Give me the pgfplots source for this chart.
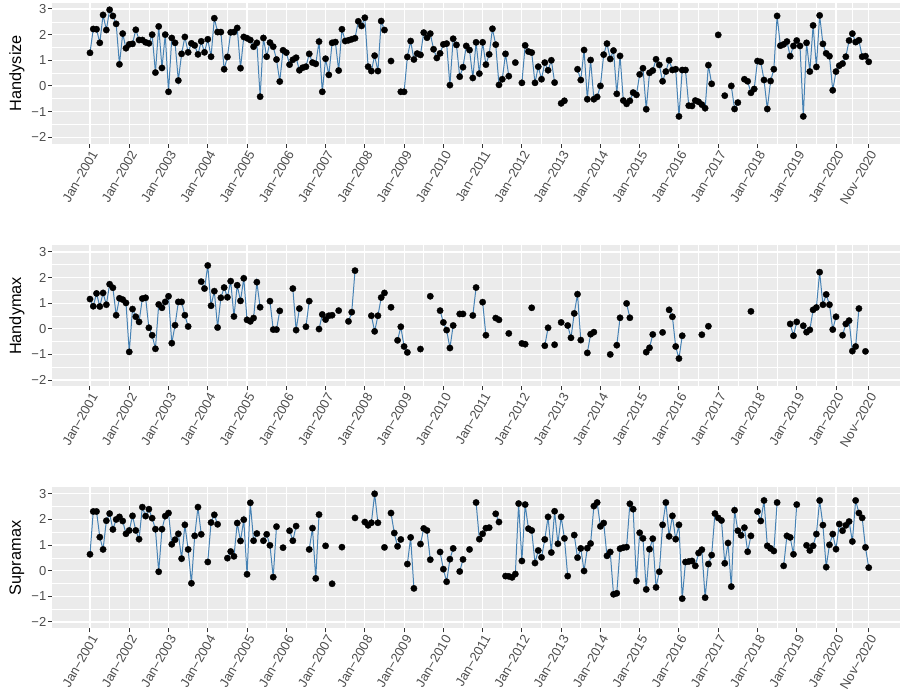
\documentclass[border=0pt]{standalone}
\usepackage{pgfplots}
\pgfplotsset{compat=1.18}
\usepackage{fontspec}
\setmainfont{Liberation Sans}
\definecolor{panelbg}{HTML}{EBEBEB}
\definecolor{ticktext}{HTML}{4D4D4D}
\definecolor{tickcol}{HTML}{333333}
\definecolor{steelblue}{HTML}{4682B4}
\pgfplotsset{
  panel/.style={
    scale only axis, width=848pt, height=141pt,
    xmin=-11.61, xmax=247.56, ymin=-2.25, ymax=3.25,
    axis background/.style={fill=panelbg},
    axis line style={draw=none},
    xtick={0,12,24,36,48,60,72,84,96,108,120,132,144,156,168,180,192,204,216,228,238},
    xticklabels={Jan−2001,Jan−2002,Jan−2003,Jan−2004,Jan−2005,Jan−2006,Jan−2007,Jan−2008,Jan−2009,Jan−2010,Jan−2011,Jan−2012,Jan−2013,Jan−2014,Jan−2015,Jan−2016,Jan−2017,Jan−2018,Jan−2019,Jan−2020,Nov−2020},
    minor xtick={6,18,30,42,54,66,78,90,102,114,126,138,150,162,174,186,198,210,222,233},
    ytick={-2,-1,0,1,2,3},
    yticklabels={−2,−1,0,1,2,3},
    minor ytick={-1.5,-0.5,0.5,1.5,2.5},
    grid=both,
    major grid style={white, line width=1.2pt},
    minor grid style={white, line width=0.6pt},
    tick align=outside, tick pos=left,
    major tick length=4pt, minor tick length=0pt,
    tick style={tickcol, line width=1pt},
    ticklabel style={font=\fontsize{13}{13}\selectfont, text=ticktext},
    xticklabel style={rotate=60, anchor=north east, inner sep=1pt},
    yticklabel style={anchor=east, inner sep=1.5pt},
    ylabel style={font=\fontsize{16.3}{16.3}\selectfont, at={(axis description cs:-0.0413,0.5)}, anchor=center},
    unbounded coords=jump,
  },
  series/.style={steelblue, line width=1pt, mark=*, mark size=3.2pt, mark options={draw=black, fill=black, line width=0.3pt, solid}},
}
\begin{document}
\begin{tikzpicture}[x=1pt,y=1pt]
\path[use as bounding box] (0,0) rectangle (902,698);
% ---------------- Handysize ----------------
\begin{axis}[panel, at={(52pt,554.4pt)}, anchor=south west, ylabel={Handysize}]
\addplot[series] coordinates {
(0,1.29) (1,2.22) (2,2.21) (3,1.68) (4,2.77) (5,2.18) (6,2.97) (7,2.73) (8,2.42) (9,0.84)
(10,2.04) (11,1.47) (12,1.62) (13,1.64) (14,2.19) (15,1.79) (16,1.79) (17,1.70) (18,1.66) (19,2.00)
(20,0.52) (21,2.32) (22,0.70) (23,2.00) (24,-0.23) (25,1.87) (26,1.68) (27,0.21) (28,1.25) (29,1.91)
(30,1.31) (31,1.66) (32,1.58) (33,1.23) (34,1.74) (35,1.31) (36,1.82) (37,1.14) (38,2.64) (39,2.10)
(40,2.10) (41,0.65) (42,1.13) (43,2.09) (44,2.10) (45,2.26) (46,0.69) (47,1.91) (48,1.86) (49,1.79)
(50,1.53) (51,1.68) (52,-0.42) (53,1.87) (54,1.14) (55,1.69) (56,1.53) (57,1.03) (58,0.17) (59,1.39)
(60,1.30) (61,0.83) (62,1.02) (63,1.10) (64,0.61) (65,0.71) (66,0.75) (67,1.25) (68,0.91) (69,0.86)
(70,1.73) (71,-0.23) (72,1.06) (73,0.43) (74,1.68) (75,1.71) (76,0.60) (77,2.21) (78,1.75) (79,1.78)
(80,1.82) (81,1.86) (82,2.52) (83,2.34) (84,2.66) (85,0.75) (86,0.58) (87,1.18) (88,0.58) (89,2.53)
(90,2.18) (91,nan) (92,0.97) (93,nan) (95,-0.23) (96,-0.23) (97,1.13) (98,1.75) (99,1.03)
(100,1.26) (101,1.21) (102,2.08) (103,1.88) (104,2.04) (105,1.43) (106,1.09) (107,1.27) (108,1.62) (109,1.65)
(110,0.03) (111,1.84) (112,1.60) (113,0.36) (114,0.73) (115,1.56) (116,1.40) (117,0.31) (118,1.70) (119,0.48)
(120,1.70) (121,0.83) (122,1.23) (123,2.23) (124,1.61) (125,0.04) (126,0.26) (127,1.25) (128,0.38) (129,nan)
(130,0.91) (131,nan) (132,0.12) (133,1.58) (134,1.34) (135,1.30) (136,0.12) (137,0.75) (138,0.26) (139,0.91)
(140,0.61) (141,1.00) (142,0.13) (143,nan) (144,-0.68) (145,-0.58) (146,nan) (149,0.65)
(150,0.23) (151,1.40) (152,-0.52) (153,1.01) (154,-0.52) (155,-0.43) (156,0.00) (157,1.22) (158,1.65) (159,1.05)
(160,1.38) (161,-0.31) (162,1.17) (163,-0.57) (164,-0.70) (165,-0.58) (166,-0.26) (167,-0.35) (168,0.45) (169,0.69)
(170,-0.91) (171,0.51) (172,0.60) (173,1.04) (174,0.82) (175,0.18) (176,0.56) (177,1.00) (178,0.62) (179,0.65)
(180,-1.19) (181,0.62) (182,0.62) (183,-0.77) (184,-0.78) (185,-0.57) (186,-0.62) (187,-0.73) (188,-0.87) (189,0.81)
(190,0.08) (191,nan) (192,1.99) (193,nan) (194,-0.38) (195,nan) (196,0.00) (197,-0.90) (198,-0.65) (199,nan)
(200,0.26) (201,0.18) (202,-0.27) (203,-0.12) (204,0.97) (205,0.94) (206,0.23) (207,-0.90) (208,0.19) (209,0.65)
(210,2.73) (211,1.57) (212,1.62) (213,1.73) (214,1.16) (215,1.56) (216,1.77) (217,1.56) (218,-1.19) (219,1.68)
(220,0.56) (221,2.36) (222,0.74) (223,2.75) (224,1.64) (225,1.27) (226,1.16) (227,-0.17) (228,0.56) (229,0.79)
(230,0.87) (231,1.14) (232,1.77) (233,2.04) (234,1.71) (235,1.78) (236,1.14) (237,1.16) (238,0.94)
};
\end{axis}
% ---------------- Handymax ----------------
\begin{axis}[panel, at={(52pt,311.5pt)}, anchor=south west, ylabel={Handymax}]
\addplot[series] coordinates {
(0,1.16) (1,0.88) (2,1.38) (3,0.87) (4,1.40) (5,0.94) (6,1.74) (7,1.60) (8,0.53) (9,1.19)
(10,1.14) (11,1.01) (12,-0.90) (13,0.77) (14,0.47) (15,0.27) (16,1.18) (17,1.21) (18,0.04) (19,-0.25)
(20,-0.78) (21,0.95) (22,0.82) (23,1.05) (24,1.27) (25,-0.56) (26,0.14) (27,1.05) (28,1.05) (29,0.53)
(30,0.09) (31,nan) (34,1.84) (35,1.57) (36,2.47) (37,0.90) (38,1.47) (39,0.05)
(40,1.21) (41,1.61) (42,1.23) (43,1.86) (44,0.48) (45,1.70) (46,1.09) (47,1.97) (48,0.35) (49,0.29)
(50,0.42) (51,1.82) (52,0.84) (53,nan) (55,1.08) (56,-0.03) (57,-0.03) (58,0.70) (59,nan)
(62,1.57) (63,-0.05) (64,0.79) (65,nan) (66,0.08) (67,1.08) (68,nan)
(70,-0.01) (71,0.56) (72,0.36) (73,0.51) (74,0.53) (75,nan) (76,0.71) (77,nan) (79,0.29)
(80,0.65) (81,2.27) (82,nan) (86,0.51) (87,-0.10) (88,0.51) (89,1.22)
(90,1.40) (91,nan) (92,0.84) (93,nan) (94,-0.45) (95,0.08) (96,-0.69) (97,-0.92) (98,nan)
(101,-0.79) (102,nan) (104,1.27) (105,nan) (107,0.71) (108,0.25) (109,-0.05)
(110,-0.75) (111,0.13) (112,nan) (113,0.58) (114,0.58) (115,nan) (117,0.52) (118,1.61) (119,nan)
(120,1.04) (121,-0.25) (122,nan) (124,0.42) (125,0.35) (126,nan) (128,-0.18) (129,nan)
(132,-0.57) (133,-0.60) (134,nan) (135,0.82) (136,nan) (139,-0.66)
(140,0.04) (141,nan) (142,-0.62) (143,nan) (144,0.25) (145,nan) (146,0.13) (147,-0.35) (148,0.60) (149,1.35)
(150,-0.44) (151,nan) (152,-0.94) (153,-0.21) (154,-0.13) (155,nan) (159,-1.00)
(160,nan) (161,-0.64) (162,0.43) (163,nan) (164,0.99) (165,0.43) (166,nan)
(170,-0.91) (171,-0.74) (172,-0.22) (173,nan) (175,-0.14) (176,nan) (177,0.74) (178,0.47) (179,-0.69)
(180,-1.16) (181,-0.27) (182,nan) (187,-0.23) (188,nan) (189,0.10)
(190,nan) (202,0.68) (203,nan)
(214,0.19) (215,-0.27) (216,0.27) (217,nan) (218,0.12) (219,-0.13)
(220,-0.04) (221,0.74) (222,0.83) (223,2.21) (224,0.94) (225,1.34) (226,0.94) (227,-0.03) (228,0.47) (229,nan)
(230,-0.25) (231,0.19) (232,0.32) (233,-0.87) (234,-0.69) (235,0.79) (236,nan) (237,-0.88)
};
\end{axis}
% ---------------- Supramax ----------------
\begin{axis}[panel, at={(52pt,69.6pt)}, anchor=south west, ylabel={Supramax}]
\addplot[series] coordinates {
(0,0.64) (1,2.31) (2,2.31) (3,1.31) (4,0.83) (5,1.95) (6,2.23) (7,1.61) (8,2.00) (9,2.10)
(10,1.94) (11,1.44) (12,1.57) (13,2.14) (14,1.57) (15,1.23) (16,2.48) (17,2.13) (18,2.40) (19,2.05)
(20,1.62) (21,-0.04) (22,1.62) (23,2.13) (24,2.25) (25,1.03) (26,1.21) (27,1.44) (28,0.47) (29,1.79)
(30,0.83) (31,-0.49) (32,1.36) (33,2.48) (34,1.42) (35,nan) (36,0.34) (37,1.88) (38,2.18) (39,1.81)
(40,nan) (42,0.49) (43,0.75) (44,0.56) (45,1.86) (46,1.16) (47,1.99) (48,-0.14) (49,2.65)
(50,1.17) (51,1.45) (52,nan) (53,1.17) (54,1.42) (55,0.99) (56,-0.25) (57,1.72) (58,nan) (59,0.90)
(60,nan) (61,1.56) (62,1.17) (63,1.74) (64,nan) (67,0.83) (68,1.66) (69,-0.30)
(70,2.19) (71,nan) (72,0.97) (73,nan) (74,-0.51) (75,nan) (77,0.92) (78,nan)
(81,2.06) (82,nan) (84,1.90) (85,1.77) (86,1.87) (87,3.00) (88,1.87) (89,nan)
(90,0.91) (91,nan) (92,2.25) (93,1.47) (94,0.95) (95,1.22) (96,nan) (97,0.26) (98,1.30) (99,-0.69)
(100,nan) (101,1.04) (102,1.65) (103,1.57) (104,0.43) (105,nan) (107,0.73) (108,0.06) (109,-0.43)
(110,0.45) (111,0.87) (112,nan) (113,-0.03) (114,0.44) (115,nan) (116,0.83) (117,nan) (118,2.66) (119,1.23)
(120,1.44) (121,1.66) (122,1.68) (123,nan) (124,2.22) (125,1.90) (126,nan) (127,-0.21) (128,-0.22) (129,-0.26)
(130,-0.13) (131,2.62) (132,0.38) (133,2.58) (134,1.64) (135,1.57) (136,0.30) (137,0.79) (138,0.52) (139,1.22)
(140,2.10) (141,0.71) (142,2.32) (143,1.05) (144,2.10) (145,1.26) (146,-0.21) (147,nan) (148,1.39) (149,0.51)
(150,0.87) (151,-0.01) (152,0.88) (153,1.06) (154,2.52) (155,2.66) (156,1.73) (157,1.86) (158,0.58) (159,0.73)
(160,-0.92) (161,-0.88) (162,0.86) (163,0.90) (164,0.92) (165,2.61) (166,2.40) (167,-0.40) (168,1.48) (169,1.26)
(170,-0.73) (171,0.84) (172,1.25) (173,-0.65) (174,-0.04) (175,1.79) (176,2.66) (177,1.34) (178,2.14) (179,1.23)
(180,1.79) (181,-1.09) (182,0.34) (183,0.36) (184,0.38) (185,0.19) (186,0.69) (187,0.82) (188,-1.05) (189,0.26)
(190,0.61) (191,2.23) (192,2.06) (193,1.96) (194,0.29) (195,1.08) (196,-0.62) (197,2.36) (198,1.56) (199,1.38)
(200,1.68) (201,0.74) (202,1.36) (203,nan) (204,2.31) (205,1.94) (206,2.74) (207,0.97) (208,0.87) (209,0.77)
(210,2.66) (211,nan) (212,0.19) (213,1.36) (214,1.30) (215,0.64) (216,2.58) (217,nan) (219,0.99)
(220,0.79) (221,0.97) (222,1.43) (223,2.74) (224,1.78) (225,0.14) (226,1.01) (227,1.43) (228,0.84) (229,1.82)
(230,1.56) (231,1.77) (232,1.92) (233,1.14) (234,2.74) (235,2.25) (236,2.06) (237,0.91) (238,0.12)
};
\end{axis}
\end{tikzpicture}
\end{document}
